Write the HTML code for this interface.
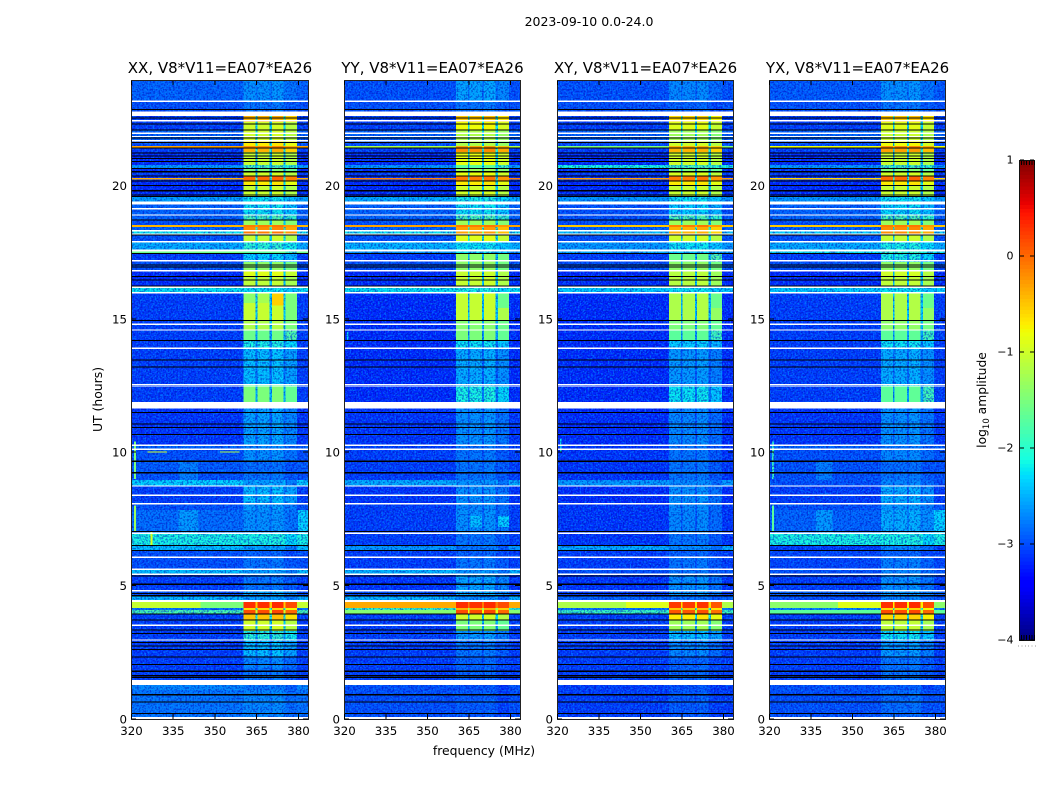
<!DOCTYPE html>
<html lang="en">
<head>
<meta charset="utf-8">
<title>2023-09-10 0.0-24.0</title>
<style>
html,body{margin:0;padding:0;background:#fff;width:1050px;height:800px;overflow:hidden}
svg{display:block}
text{font-family:"DejaVu Sans","Liberation Sans",sans-serif;fill:#000}
</style>
</head>
<body>
<svg id="fig" xmlns="http://www.w3.org/2000/svg" width="1050" height="800" viewBox="0 0 1050 800">
<defs>
<filter id="speckle-light" x="0" y="0" width="100%" height="100%" color-interpolation-filters="sRGB">
<feTurbulence type="fractalNoise" baseFrequency="0.6" numOctaves="1" seed="4"/>
<feColorMatrix type="matrix" values="0 0 0 0 0  0 0 0 0 0.6  0 0 0 0 1  6 0 0 0 -2.85"/>
</filter>
<filter id="speckle-dark" x="0" y="0" width="100%" height="100%" color-interpolation-filters="sRGB">
<feTurbulence type="fractalNoise" baseFrequency="0.56" numOctaves="1" seed="11"/>
<feColorMatrix type="matrix" values="0 0 0 0 0  0 0 0 0 0  0 0 0 0 0.7  0 6 0 0 -2.85"/>
</filter>
</defs>
<text x="589" y="26" font-size="12.5" text-anchor="middle">2023-09-10 0.0-24.0</text>
<text x="0" y="0" font-size="12.4" text-anchor="middle" transform="translate(102,399.5) rotate(-90)">UT (hours)</text>
<text x="484" y="755" font-size="12.4" text-anchor="middle">frequency (MHz)</text>
<text x="0" y="0" font-size="12.3" text-anchor="middle" transform="translate(986,400) rotate(-90)">log<tspan font-size="8.5" dy="3">10</tspan><tspan dy="-3"> amplitude</tspan></text>
</svg>
<script>
// ---- categories and tick labels ----
const panelTitles = ['XX, V8*V11=EA07*EA26','YY, V8*V11=EA07*EA26','XY, V8*V11=EA07*EA26','YX, V8*V11=EA07*EA26'];
const xTickLabels = [320,335,350,365,380];
const yTickLabels = [0,5,10,15,20];
const colorbarTicks = [1,0,-1,-2,-3,-4];

// ---- time rows (UT hours, row i spans rowEdges[i]..rowEdges[i+1]) ----
const rowEdges = [23.95,23.16,22.60,22.38,22.08,21.70,21.48,21.40,21.25,20.76,20.65,20.54,20.35,20.16,19.98,19.60,19.30,18.89,18.70,18.51,18.44,18.33,18.14,17.88,17.54,17.43,17.13,16.83,16.60,16.19,15.97,14.92,14.58,14.17,13.90,12.56,12.48,11.88,11.66,10.27,10.12,9.67,9.26,8.96,8.73,8.10,7.83,6.97,6.52,6.33,6.07,5.58,5.43,4.83,4.65,4.39,4.16,4.09,3.94,3.71,3.30,2.96,2.36,1.91,1.46,1.09,0.07];

// ---- frequency columns (MHz), in-band response and sub-band level shift of each column ----
const freqEdges = [320,360.4,364.8,365.4,369.8,370.6,374.8,375.6,379.6,383.6];
const bandResponse = [0,1,0.4,1,0.4,1,0.4,1,0];
const subbandShift = [0,0,0,0,0,0.03,0,-0.15,0];

// ---- log10 amplitude per row: out-of-band and in-band ----
const xxOff = [-2.9,-3.0,-3.1,-3.1,-2.9,-3.0,-0.3,-3.1,-3.2,-2.6,-3.2,-3.1,-3.2,-3.2,-3.2,-2.55,-2.9,-2.9,-3.0,-0.4,-2.9,-2.2,-3.0,-2.5,-1.6,-3.1,-3.0,-3.2,-3.2,-2.2,-3.1,-3.1,-3.1,-3.1,-3.1,-3.1,-3.1,-2.6,-3.15,-2.9,-3.0,-2.95,-3.0,-2.3,-3.1,-3.0,-2.85,-2.1,-2.4,-3.0,-3.0,-2.4,-3.1,-3.0,-2.45,-1.05,-2.8,-1.8,-3.1,-3.1,-3.1,-3.1,-3.1,-3.1,-2.7,-2.8];
const xxBand = [-2.65,-2.8,-0.4,-1.0,-1.0,-0.7,-0.2,-0.4,-1.05,-1.8,-1.5,-1.0,0.0,-0.7,-1.05,-2.2,-2.2,-1.8,-1.3,-0.1,-0.2,-0.1,-1.05,-2.0,-1.7,-2.3,-1.4,-0.9,-1.1,-2.2,-1.05,-1.2,-1.6,-2.1,-2.4,-1.7,-1.5,-2.4,-2.55,-2.7,-2.65,-2.85,-2.8,-2.6,-2.4,-2.6,-2.65,-2.1,-2.6,-2.9,-2.8,-2.6,-2.8,-2.5,-2.6,0.3,-0.6,0.15,-0.5,-1.0,-2.0,-2.4,-2.7,-2.8,-2.8,-2.7];
const yyOff = [-3.0,-3.0,-3.1,-3.1,-2.9,-3.0,-1.2,-3.1,-3.2,-2.6,-3.2,-3.1,-3.2,-3.2,-3.2,-2.5,-2.9,-2.9,-3.0,-0.3,-2.9,-2.2,-3.0,-2.45,-2.6,-3.1,-3.0,-3.2,-3.2,-2.2,-3.2,-3.2,-3.2,-3.2,-3.2,-3.2,-3.2,-2.8,-3.15,-3.1,-3.1,-3.1,-3.1,-2.5,-3.15,-3.1,-3.1,-3.1,-2.6,-3.1,-3.1,-2.45,-3.15,-3.0,-2.45,-0.35,-1.9,-1.45,-3.1,-3.1,-3.1,-3.1,-3.1,-3.1,-3.0,-3.0];
const yyBand = [-2.55,-2.8,-0.5,-0.8,-1.2,-1.2,-0.3,-0.2,-0.85,-1.7,-1.3,-0.85,-0.1,-0.7,-1.0,-2.1,-2.2,-1.8,-1.3,-0.1,-0.3,-0.3,-0.9,-2.2,-2.2,-1.4,-1.4,-1.05,-1.05,-2.1,-1.05,-1.45,-1.5,-2.2,-2.5,-2.4,-2.1,-2.8,-2.65,-2.8,-2.8,-2.8,-2.8,-2.65,-2.65,-2.7,-2.65,-2.8,-2.8,-2.9,-2.8,-2.65,-2.55,-2.5,-2.7,0.3,-0.4,0.15,-1.0,-1.5,-2.6,-2.8,-2.9,-2.9,-3.0,-2.95];
const xyOff = [-3.0,-3.0,-3.1,-3.1,-2.9,-3.0,-1.5,-3.1,-3.2,-2.1,-3.2,-3.1,-3.2,-3.2,-3.2,-2.6,-3.0,-3.0,-3.0,-0.5,-2.9,-2.4,-3.0,-2.6,-2.5,-3.1,-3.0,-3.2,-3.2,-2.3,-3.2,-3.2,-3.2,-3.2,-3.2,-3.2,-3.2,-2.8,-3.2,-3.15,-3.15,-3.15,-3.15,-2.6,-3.2,-3.15,-3.15,-3.15,-2.5,-3.1,-3.1,-3.0,-3.15,-3.1,-2.9,-1.2,-2.8,-1.9,-3.1,-3.1,-3.1,-3.1,-3.1,-3.1,-3.1,-3.1];
const xyBand = [-2.7,-2.9,-0.6,-0.9,-1.3,-1.0,-0.4,-0.4,-1.0,-1.8,-1.5,-0.95,-0.1,-0.7,-1.05,-2.2,-2.3,-1.8,-1.3,-0.1,-0.4,-0.4,-1.0,-2.2,-2.3,-1.6,-1.4,-1.15,-1.15,-2.2,-1.2,-1.5,-1.7,-2.3,-2.6,-2.6,-2.2,-2.8,-2.7,-2.8,-2.8,-2.8,-2.8,-2.7,-2.65,-2.7,-2.7,-2.8,-2.7,-2.9,-2.8,-2.8,-2.65,-2.6,-2.8,0.25,-0.5,0.1,-0.7,-1.3,-2.4,-2.7,-2.9,-2.9,-3.0,-2.95];
const yxOff = [-2.95,-3.0,-3.1,-3.1,-2.9,-3.0,-0.8,-3.1,-3.2,-2.6,-3.2,-3.1,-3.2,-3.2,-3.2,-2.6,-2.9,-2.9,-3.0,-0.5,-2.9,-2.3,-3.0,-2.5,-2.2,-3.1,-3.0,-3.2,-3.2,-2.3,-3.1,-3.1,-3.1,-3.1,-3.1,-3.1,-3.1,-2.7,-3.15,-2.9,-3.0,-3.0,-3.0,-3.0,-3.1,-3.0,-2.9,-2.1,-3.1,-3.05,-3.05,-3.0,-3.1,-2.9,-3.0,-1.4,-2.7,-1.7,-3.1,-3.1,-3.1,-3.1,-3.1,-3.1,-3.0,-3.0];
const yxBand = [-2.65,-2.8,-0.5,-0.9,-1.05,-0.8,-0.2,-0.3,-1.05,-1.8,-1.5,-1.0,0.0,-0.7,-1.05,-2.2,-2.25,-1.8,-1.3,-0.1,-0.2,-0.2,-1.05,-2.1,-1.9,-2.1,-1.4,-1.0,-1.1,-2.2,-1.2,-1.4,-1.7,-2.2,-2.5,-2.2,-1.7,-2.7,-2.65,-2.8,-2.7,-2.85,-2.8,-2.7,-2.5,-2.6,-2.5,-2.1,-2.7,-2.9,-2.75,-2.7,-2.65,-2.6,-2.7,0.3,-0.6,0.15,-0.6,-1.1,-2.2,-2.6,-2.8,-2.8,-2.95,-2.85];

// ---- local patches: [freq start, freq end, UT top, UT bottom, log10 amplitude] ----
const xxPatches = [[320,360.4,20.28,20.22,-0.4],[379.6,383.6,20.28,20.22,-0.4],[321,321.8,10.4,9.0,-1.5],[321,321.8,8.0,7.0,-1.3],[327,327.8,7.0,6.5,-0.9],[326,333,10.03,9.98,-1.0],[352,359,10.03,9.98,-1.2],[337,344,9.67,8.96,-2.75],[337,344,7.83,6.97,-2.6],[380,383.6,7.83,6.97,-2.3],[360.4,364.8,15.97,15.59,-1.4],[365.4,369.8,15.97,15.59,-1.25],[370.6,374.8,15.97,15.5,-0.55],[375.6,379.6,15.97,14.58,-1.5],[345,360.4,4.39,4.16,-1.5]];
const yyPatches = [[320,360.4,20.28,20.22,-0.15],[379.6,383.6,20.28,20.22,-0.15],[321,321.6,14.5,14.2,-2.2],[365.4,369.8,7.6,7.2,-2.4],[375.6,379.6,7.6,7.2,-2.3],[375.6,379.6,15.97,15.4,-1.6]];
const xyPatches = [[320,360.4,20.28,20.22,-0.3],[379.6,383.6,20.28,20.22,-0.3],[345,360.4,4.39,4.16,-0.9],[321,321.6,10.5,10.0,-2.2],[375.6,379.6,15.97,15.4,-1.6]];
const yxPatches = [[320,360.4,20.28,20.22,-0.6],[379.6,383.6,20.28,20.22,-0.6],[321,321.8,10.4,9.0,-1.9],[321,321.8,8.0,7.0,-1.7],[337,343,9.67,8.96,-2.75],[337,343,7.83,6.97,-2.6],[379.6,383.6,7.83,6.97,-2.3],[345,360.4,4.39,4.16,-0.9],[375.6,379.6,15.97,15.4,-1.6]];

// ---- flagged integrations shared by all panels: [UT centre, duration hours] ----
const whiteFlags = [[23.15,0.05],[22.68,0.17],[22.42,0.05],[21.96,0.05],[21.83,0.05],[21.67,0.05],[19.34,0.12],[19.13,0.05],[18.89,0.05],[18.30,0.05],[18.18,0.05],[17.89,0.05],[17.56,0.07],[17.18,0.05],[16.80,0.05],[16.18,0.05],[15.98,0.05],[14.80,0.05],[14.58,0.05],[13.90,0.05],[12.54,0.05],[12.48,0.05],[11.79,0.19],[11.67,0.05],[10.26,0.05],[10.11,0.05],[8.73,0.05],[8.38,0.05],[8.07,0.05],[6.96,0.05],[6.06,0.05],[5.61,0.05],[5.42,0.05],[4.81,0.05],[4.42,0.07],[3.51,0.05],[2.96,0.05],[1.37,0.19],[0.03,0.08]];
const blackFlags = [22.84,22.53,22.30,22.08,21.78,21.60,21.40,21.22,21.10,21.01,20.89,20.64,20.51,20.35,20.16,19.99,19.80,19.64,19.58,18.70,18.14,17.45,17.02,16.94,16.58,16.45,16.23,14.93,14.19,13.46,13.19,11.49,11.06,10.93,10.67,9.66,9.23,7.02,6.51,6.32,5.36,5.05,4.71,4.62,3.93,3.71,3.34,3.21,2.86,2.74,2.61,2.33,2.05,1.79,1.62,1.56,0.91,0.63,0.20];

// ---- scales and layout ----
const panelLeft = [131,344,557,769];
const panelWidth = [177,176,176,176];
const panelSeries = [
  {off:xxOff,band:xxBand,patches:xxPatches,key:'xx'},
  {off:yyOff,band:yyBand,patches:yyPatches,key:'yy'},
  {off:xyOff,band:xyBand,patches:xyPatches,key:'xy'},
  {off:yxOff,band:yxBand,patches:yxPatches,key:'yx'}
];
const PT = 80, PB = 719, FMIN = 320, FMAX = 383.6, UTMAX = 23.95;
const NS = 'http://www.w3.org/2000/svg';
const fig = document.getElementById('fig');

function xScale(left, w, f){ return left + (f - FMIN) * w / (FMAX - FMIN); }
function yScale(ut){ return PB - ut * (PB - PT) / UTMAX; }
function cbarY(v){ return 160 + (1 - v) * 96; }
function ramp(t, pts){
  for (let i = 1; i < pts.length; i++){
    if (t <= pts[i][0]){
      const a = pts[i-1], b = pts[i];
      return a[1] + (b[1]-a[1]) * (t-a[0]) / (b[0]-a[0]);
    }
  }
  return pts[pts.length-1][1];
}
function jet(v){
  const t = Math.max(0, Math.min(1, (v + 4) / 5));
  const r = ramp(t, [[0,0],[0.35,0],[0.66,1],[0.89,1],[1,0.5]]);
  const g = ramp(t, [[0,0],[0.125,0],[0.375,1],[0.64,1],[0.91,0],[1,0]]);
  const b = ramp(t, [[0,0.5],[0.11,1],[0.34,1],[0.65,0],[1,0]]);
  return 'rgb(' + Math.round(r*255) + ',' + Math.round(g*255) + ',' + Math.round(b*255) + ')';
}
function rect(parent, x, y, w, h, fill){
  const el = document.createElementNS(NS, 'rect');
  el.setAttribute('x', x);
  el.setAttribute('y', y);
  el.setAttribute('width', w);
  el.setAttribute('height', h);
  el.setAttribute('fill', fill);
  parent.appendChild(el);
  return el;
}
function line(parent, x1, y1, x2, y2, color){
  const el = document.createElementNS(NS, 'line');
  el.setAttribute('x1', x1);
  el.setAttribute('y1', y1);
  el.setAttribute('x2', x2);
  el.setAttribute('y2', y2);
  el.setAttribute('stroke', color);
  el.setAttribute('stroke-width', 1);
  el.setAttribute('shape-rendering', 'crispEdges');
  parent.appendChild(el);
  return el;
}
function label(parent, x, y, str, size, anchor){
  const el = document.createElementNS(NS, 'text');
  el.setAttribute('x', x);
  el.setAttribute('y', y);
  el.setAttribute('font-size', size);
  el.setAttribute('text-anchor', anchor);
  el.textContent = str;
  parent.appendChild(el);
  return el;
}
function group(parent){
  const el = document.createElementNS(NS, 'g');
  el.setAttribute('shape-rendering', 'crispEdges');
  parent.appendChild(el);
  return el;
}

panelSeries.forEach(function(series, p){
  const L = panelLeft[p];
  const PW = panelWidth[p];
  const g = group(fig);
  
  

  const low = group(g);
  
  
  const texture = group(g);
  
  
  const high = group(g);
  
  

  for (let r = 0; r < rowEdges.length - 1; r++){
    const y0 = yScale(rowEdges[r]), y1 = yScale(rowEdges[r+1]);
    for (let c = 0; c < bandResponse.length; c++){
      const x0 = xScale(L, PW, freqEdges[c]), x1 = xScale(L, PW, freqEdges[c+1]);
      const v = series.off[r] + bandResponse[c] * (series.band[r] - series.off[r]) + subbandShift[c];
      const cell = rect(v < -1.7 ? low : high, x0, y0, x1 - x0, y1 - y0, jet(v));
      
      
    }
  }

  series.patches.forEach(function(pt){
    const x0 = xScale(L, PW, pt[0]), x1 = xScale(L, PW, pt[1]);
    const y0 = yScale(pt[2]), y1 = yScale(pt[3]);
    const el = rect(pt[4] < -1.7 ? low : high, x0, y0, x1 - x0, y1 - y0, jet(pt[4]));
    
    
  });

  const nl = rect(texture, L, PT, PW, PB - PT, '#000');
  nl.setAttribute('filter', 'url(#speckle-light)');
  nl.setAttribute('opacity', '0.55');
  
  
  const nd = rect(texture, L, PT, PW, PB - PT, '#000');
  nd.setAttribute('filter', 'url(#speckle-dark)');
  nd.setAttribute('opacity', '0.45');
  
  

  blackFlags.forEach(function(ut){
    const y0 = yScale(ut + 0.02), y1 = yScale(ut - 0.02);
    const el = rect(g, L, y0, PW, y1 - y0, '#000');
    
    
  });
  whiteFlags.forEach(function(f){
    const y0 = yScale(f[0] + f[1] / 2), y1 = yScale(f[0] - f[1] / 2);
    const el = rect(g, L, y0, PW, y1 - y0, '#fff');
    
    
  });

  // axes frame
  const frame = rect(g, L + 0.5, PT + 0.5, PW, PB - PT, 'none');
  frame.setAttribute('stroke', '#222');
  frame.setAttribute('stroke-width', '1');
  
  

  // ticks and tick labels
  xTickLabels.forEach(function(f){
    const x = xScale(L, PW, f) + 0.5;
    const a = line(g, x, PB, x, PB - 5, '#000');
    
    
    const b = line(g, x, PT + 1, x, PT + 5, '#000');
    
    
    const t = label(g, x, 735, String(f), 11.8, 'middle');
    
    
  });
  yTickLabels.forEach(function(u){
    const y = yScale(u);
    const a = line(g, L + 1, y, L + 5, y, '#000');
    
    
    const b = line(g, L + PW, y, L + PW - 5, y, '#000');
    
    
    const t = label(g, L - 4, y + 4.5, String(u), 11.8, 'end');
    
    
  });

  const title = label(g, L + PW / 2 + 0.5, 73, panelTitles[p], 15, 'middle');
  
  
});

// ---- colorbar ----
const cb = group(fig);


for (let i = 0; i < 128; i++){
  const vTop = 1 - i * 5 / 128, vBot = 1 - (i + 1) * 5 / 128;
  const s = rect(cb, 1019, cbarY(vTop), 15, cbarY(vBot) - cbarY(vTop) + 0.5, jet((vTop + vBot) / 2));
  
  
}
const cbFrame = rect(cb, 1019.5, 160.5, 15, 480, 'none');
cbFrame.setAttribute('stroke', '#111');


colorbarTicks.forEach(function(v){
  const y = cbarY(v);
  const a = line(cb, 1020, y, 1024, y, '#000');
  
  
  const b = line(cb, 1030, y, 1034, y, '#000');
  
  
  const t = label(cb, 1013.5, y + 3.5, v < 0 ? '\u2212' + Math.abs(v) : String(v), 11, 'end');
  
  
});
[0,1,2,3,4,5].forEach(function(i){
  const x = 1021.5 + i * 2.6;
  const a = line(cb, x, 161, x, 165, '#000');
  
  
  const b = line(cb, x, 640, x, 635, '#000');
  
  
  const d = rect(cb, 1018 + i * 3.4, 645.5, 1, 1, '#999');
  
  
});
</script>
</body>
</html>
